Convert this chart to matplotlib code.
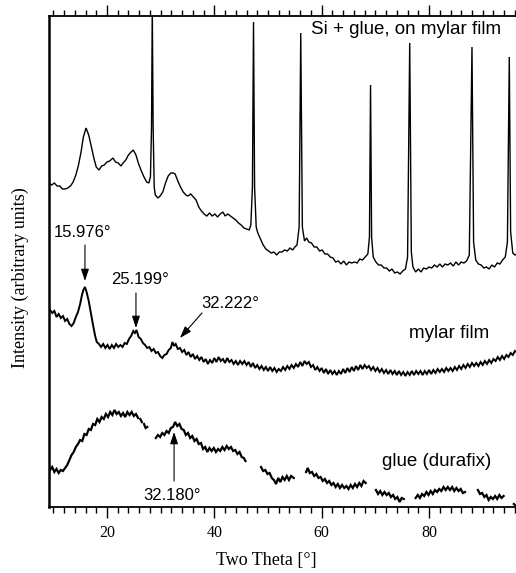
import numpy as np
import matplotlib
matplotlib.use("Agg")
import matplotlib.pyplot as plt

# ---------------- data (two-theta in degrees, intensity in arbitrary units) -------------
si_glue_mylar = [
    (9.2, 324), (9.7, 322), (10.2, 324), (10.7, 321), (11.2, 321), (11.7, 318), (12.2, 318),
    (12.7, 319), (13.2, 321), (13.7, 325), (14.2, 332), (14.7, 342), (15.2, 356), (15.6, 370),
    (16.1, 379), (16.6, 372), (17.1, 360), (17.6, 348), (18.0, 340), (18.5, 337), (19.0, 341),
    (19.5, 342), (20.0, 345), (20.5, 346), (21.1, 349), (21.6, 345), (22.1, 344), (22.6, 341),
    (23.0, 344), (23.5, 347), (24.0, 352), (24.5, 355), (24.9, 357), (25.4, 352), (25.9, 343),
    (26.4, 336), (26.9, 330), (27.4, 325), (27.8, 324), (28.1, 330), (28.3, 380), (28.44, 500),
    (28.6, 380), (28.8, 320), (29.0, 312), (29.5, 309), (29.9, 311), (30.4, 315), (30.9, 324),
    (31.4, 331), (31.9, 334), (32.4, 334), (32.7, 333), (33.2, 326), (33.7, 320), (34.2, 315),
    (34.7, 312), (35.1, 311), (35.6, 313), (36.1, 310), (36.6, 307), (37.1, 300), (37.6, 296),
    (38.1, 293), (38.6, 291), (39.1, 294), (39.6, 291), (40.1, 293), (40.6, 290), (41.1, 293),
    (41.6, 295), (42.0, 291), (42.5, 293), (43.0, 291), (43.5, 289), (44.0, 287), (44.5, 284),
    (45.0, 282), (45.5, 279), (46.0, 278), (46.5, 277), (46.8, 282), (47.1, 320), (47.3, 485),
    (47.5, 320), (47.8, 280), (48.1, 274), (48.6, 268), (49.1, 262), (49.6, 258), (50.1, 256),
    (50.6, 254), (51.1, 255), (51.6, 252), (52.1, 255), (52.6, 255), (53.1, 257), (53.6, 256),
    (54.1, 259), (54.6, 257), (55.0, 260), (55.4, 262), (55.8, 280), (56.1, 474), (56.4, 280),
    (56.8, 266), (57.2, 269), (57.6, 265), (58.1, 264), (58.6, 260), (59.1, 260), (59.6, 256),
    (60.1, 257), (60.6, 253), (61.1, 253), (61.6, 250), (62.1, 249), (62.6, 245), (63.1, 246),
    (63.6, 243), (64.1, 246), (64.6, 242), (65.1, 245), (65.6, 244), (66.1, 245), (66.6, 244),
    (67.1, 248), (67.6, 247), (68.1, 250), (68.6, 253), (68.9, 270), (69.1, 422), (69.3, 270),
    (69.6, 250), (70.1, 245), (70.6, 242), (71.1, 242), (71.6, 239), (72.1, 239), (72.6, 236),
    (73.1, 238), (73.6, 234), (74.1, 235), (74.6, 233), (75.1, 236), (75.6, 238), (76.0, 250),
    (76.4, 464), (76.7, 255), (77.0, 240), (77.5, 235), (78.0, 238), (78.5, 235), (79.0, 239),
    (79.5, 238), (80.0, 240), (80.5, 239), (81.0, 242), (81.5, 240), (82.0, 243), (82.5, 240),
    (83.0, 243), (83.5, 242), (84.0, 244), (84.5, 241), (85.0, 245), (85.5, 242), (86.0, 245),
    (86.5, 244), (87.0, 246), (87.5, 252), (88.0, 460), (88.3, 265), (88.7, 247), (89.2, 243),
    (89.7, 242), (90.2, 239), (90.7, 240), (91.2, 238), (91.7, 242), (92.2, 240), (92.7, 244),
    (93.2, 243), (93.7, 247), (94.2, 250), (94.6, 265), (94.95, 450), (95.2, 275), (95.6, 254),
    (96.0, 252), (96.3, 253),
]

mylar_film = [
    (9.4, 197), (9.8, 194), (10.2, 196), (10.6, 190), (11.0, 193), (11.4, 189), (11.8, 191),
    (12.2, 186), (12.6, 188), (13.0, 183), (13.4, 181), (13.8, 184), (14.2, 190), (14.6, 195),
    (15.0, 203), (15.3, 211), (15.6, 217), (15.9, 220), (16.2, 215), (16.6, 206), (17.0, 194),
    (17.4, 182), (17.8, 171), (18.1, 165), (18.5, 163), (18.9, 160), (19.3, 163), (19.7, 159),
    (20.1, 162), (20.5, 158), (20.9, 162), (21.3, 159), (21.7, 163), (22.1, 160), (22.5, 162),
    (22.9, 160), (23.3, 164), (23.7, 163), (24.1, 168), (24.5, 171), (24.9, 176), (25.2, 174),
    (25.5, 177), (25.9, 170), (26.3, 168), (26.7, 164), (27.1, 162), (27.5, 159), (27.9, 160),
    (28.3, 156), (28.7, 158), (29.1, 154), (29.5, 155), (29.9, 151), (30.3, 149), (30.7, 152),
    (31.1, 153), (31.5, 157), (31.9, 159), (32.2, 165), (32.5, 161), (32.8, 163), (33.2, 158),
    (33.6, 159), (34.0, 155), (34.4, 157), (34.8, 152), (35.2, 155), (35.6, 150), (36.0, 153),
    (36.4, 148), (36.8, 151), (37.2, 147), (37.6, 150), (38.0, 145), (38.4, 148), (38.8, 143),
    (39.2, 147), (39.6, 144), (40.0, 149), (40.4, 145), (40.8, 150), (41.2, 146), (41.6, 148),
    (42.0, 144), (42.4, 149), (42.8, 145), (43.2, 147), (43.6, 143), (44.0, 146), (44.4, 142),
    (44.8, 146), (45.2, 143), (45.6, 146), (46.0, 142), (46.4, 145), (46.8, 140), (47.2, 144),
    (47.6, 139), (48.0, 142), (48.4, 138), (48.8, 141), (49.2, 137), (49.6, 140), (50.0, 136),
    (50.4, 140), (50.8, 136), (51.2, 139), (51.6, 135), (52.0, 138), (52.4, 136), (52.8, 140),
    (53.2, 137), (53.6, 141), (54.0, 138), (54.4, 142), (54.8, 139), (55.2, 143), (55.6, 140),
    (56.0, 145), (56.4, 141), (56.8, 146), (57.2, 143), (57.6, 145), (58.0, 140), (58.4, 142),
    (58.8, 137), (59.2, 140), (59.6, 136), (60.0, 139), (60.4, 134), (60.8, 138), (61.2, 133),
    (61.6, 137), (62.0, 133), (62.4, 136), (62.8, 132), (63.2, 136), (63.6, 133), (64.0, 138),
    (64.4, 134), (64.8, 139), (65.2, 135), (65.6, 140), (66.0, 136), (66.4, 141), (66.8, 137),
    (67.2, 142), (67.6, 138), (68.0, 142), (68.4, 139), (68.8, 141), (69.2, 137), (69.6, 140),
    (70.0, 136), (70.4, 139), (70.8, 135), (71.2, 138), (71.6, 134), (72.0, 137), (72.4, 133),
    (72.8, 137), (73.2, 133), (73.6, 136), (74.0, 132), (74.4, 136), (74.8, 132), (75.2, 135),
    (75.6, 131), (76.0, 135), (76.4, 132), (76.8, 136), (77.2, 132), (77.6, 136), (78.0, 133),
    (78.4, 136), (78.8, 132), (79.2, 136), (79.6, 133), (80.0, 137), (80.4, 133), (80.8, 137),
    (81.2, 134), (81.6, 138), (82.0, 135), (82.4, 138), (82.8, 135), (83.2, 139), (83.6, 136),
    (84.0, 139), (84.4, 136), (84.8, 140), (85.2, 137), (85.6, 141), (86.0, 138), (86.4, 142),
    (86.8, 139), (87.2, 143), (87.6, 140), (88.0, 144), (88.4, 141), (88.8, 144), (89.2, 141),
    (89.6, 145), (90.0, 142), (90.4, 146), (90.8, 143), (91.2, 147), (91.6, 144), (92.0, 148),
    (92.4, 146), (92.8, 150), (93.2, 147), (93.6, 151), (94.0, 148), (94.4, 152), (94.8, 150),
    (95.2, 154), (95.6, 152), (96.0, 156), (96.3, 155),
]

# glue scan is recorded in separate pieces (gaps between them)
glue_durafix = [
    [(9.4, 37), (9.8, 40), (10.2, 35), (10.6, 38), (11.0, 34), (11.4, 37), (11.8, 36), (12.2, 39),
     (12.6, 42), (13.0, 47), (13.4, 52), (13.8, 55), (14.2, 60), (14.6, 63), (15.0, 67), (15.4, 66),
     (15.8, 73), (16.2, 72), (16.6, 78), (17.0, 77), (17.4, 83), (17.8, 82), (18.2, 88), (18.6, 85),
     (19.0, 90), (19.4, 88), (19.8, 93), (20.2, 90), (20.6, 95), (21.0, 92), (21.4, 97), (21.8, 93),
     (22.2, 95), (22.6, 91), (23.0, 94), (23.4, 90), (23.8, 95), (24.2, 92), (24.6, 95), (25.0, 91),
     (25.4, 93), (25.8, 89)],
    [(26.2, 88), (26.5, 85)],
    [(26.9, 83), (27.2, 79), (27.5, 80)],
    [(29.1, 69), (29.5, 72), (29.9, 70), (30.3, 74), (30.7, 72), (31.1, 76), (31.5, 74), (31.9, 79),
     (32.3, 80), (32.7, 85), (33.1, 81), (33.5, 83), (33.9, 78), (34.3, 77), (34.7, 72), (35.1, 74),
     (35.5, 69), (35.9, 71), (36.3, 66), (36.7, 68), (37.1, 63), (37.5, 64), (37.9, 58), (38.3, 60),
     (38.7, 55), (39.1, 59), (39.5, 56), (39.9, 59), (40.3, 55), (40.7, 58), (41.1, 56), (41.5, 60),
     (41.9, 57), (42.3, 61), (42.7, 58), (43.1, 60), (43.5, 56), (43.9, 57), (44.3, 53), (44.7, 55),
     (45.1, 50), (45.5, 49), (45.8, 46)],
    [(48.7, 40), (49.1, 36), (49.5, 37), (49.9, 33), (50.3, 34), (50.7, 29), (51.1, 27), (51.5, 23),
     (51.9, 29), (52.3, 25), (52.7, 30), (53.1, 27), (53.5, 31), (53.9, 27), (54.3, 31), (54.8, 29)],
    [(57.1, 35), (57.4, 39), (57.8, 34), (58.2, 35), (58.6, 31), (59.0, 33), (59.4, 29), (59.8, 30),
     (60.2, 26), (60.6, 28), (61.0, 24), (61.4, 26), (61.8, 22), (62.2, 24), (62.6, 20), (63.0, 23),
     (63.4, 19), (63.8, 22), (64.2, 19), (64.6, 21), (65.0, 18), (65.4, 22), (65.8, 19), (66.2, 23),
     (66.6, 20), (67.0, 24), (67.4, 21), (67.8, 26), (68.2, 24)],
    [(70.1, 17), (70.5, 13), (70.9, 16), (71.3, 12), (71.7, 15), (72.1, 12), (72.5, 14), (72.9, 10),
     (73.3, 12), (73.7, 8), (74.1, 10), (74.5, 5), (74.9, 9), (75.3, 8)],
    [(77.5, 9), (77.9, 12), (78.3, 9), (78.7, 13), (79.1, 11), (79.5, 15), (79.9, 12), (80.3, 16),
     (80.7, 13), (81.1, 17), (81.5, 15), (81.9, 18), (82.3, 16), (82.7, 20), (83.1, 17), (83.5, 20),
     (83.9, 17), (84.3, 20), (84.7, 16), (85.1, 19), (85.5, 16), (85.9, 18), (86.3, 14), (86.7, 15)],
    [(89.1, 17), (89.5, 13), (89.9, 14), (90.3, 10), (90.7, 12), (91.1, 7), (91.5, 10), (91.9, 8),
     (92.3, 11), (92.7, 8), (93.1, 12), (93.5, 9), (93.9, 11)],
    [(95.8, 3), (96.0, 2)],
]

trace_labels = ["Si + glue, on mylar film", "mylar film", "glue (durafix)"]
label_pos = [(58.0, 477), (76.2, 174), (71.2, 45)]

# peak annotations: text, text position, arrow tail, arrow tip
peak_texts = ["15.976°", "25.199°", "32.222°", "32.180°"]
peak_text_pos = [(15.5, 275), (26.1, 227), (42.9, 204), (32.1, 12)]
peak_arrow_tail = [(15.9, 262), (25.4, 214), (37.7, 194), (32.5, 26)]
peak_arrow_tip = [(15.9, 226), (25.4, 179), (33.6, 169), (32.5, 75)]

x_major = [20, 40, 60, 80]
x_min, x_max = 9.2, 96.2
y_min, y_max = 0, 491

# ---------------- figure ----------------
W, H = 516, 573
fig = plt.figure(figsize=(W / 100, H / 100), dpi=100)
ax = fig.add_axes([49 / W, 66 / H, (W - 49) / W, 491 / H])

sans = "Liberation Sans"
serif = "Liberation Serif"

def plot_pairs(pairs, lw):
    xs = [p[0] for p in pairs]
    ys = [p[1] for p in pairs]
    ax.plot(xs, ys, color="black", lw=lw, solid_joinstyle="miter")

plot_pairs(si_glue_mylar, 1.0)
plot_pairs(mylar_film, 1.4)
for seg in glue_durafix:
    plot_pairs(seg, 1.6)

for txt, (lx, ly) in zip(trace_labels, label_pos):
    ax.text(lx, ly, txt, fontsize=13.5, family=sans, ha="left", va="center")

for txt, tp, tail, tip in zip(peak_texts, peak_text_pos, peak_arrow_tail, peak_arrow_tip):
    ax.text(tp[0], tp[1], txt, fontsize=12, family=sans, ha="center", va="center")
    ax.annotate("", xy=tip, xytext=tail,
                arrowprops=dict(arrowstyle="-|>,head_length=0.6,head_width=0.2",
                                color="black", lw=0.8,
                                mutation_scale=12, shrinkA=0, shrinkB=0))

ax.set_xlim(x_min, x_max)
ax.set_ylim(y_min, y_max)
ax.set_xticks(x_major)
ax.set_xticks(np.arange(10, 98, 2), minor=True)
ax.set_yticks([])
ax.tick_params(axis="x", which="both", direction="out", top=True, bottom=True,
               width=1.0, labelsize=11.5)
ax.tick_params(axis="x", which="major", length=8, pad=5)
ax.tick_params(axis="x", which="minor", length=4.5)
for lab in ax.get_xticklabels():
    lab.set_family(serif)

ax.spines["right"].set_visible(False)
ax.spines["left"].set_linewidth(1.8)
ax.spines["top"].set_linewidth(1.3)
ax.spines["bottom"].set_linewidth(1.3)

fig.text(266 / W, 1 - 560 / H, "Two Theta [°]", family=serif, fontsize=13,
         ha="center", va="center")
fig.text(20 / W, 1 - 278 / H, "Intensity (arbitrary units)", family=serif, fontsize=13,
         ha="center", va="center", rotation=90)

fig.savefig("out.png", dpi=100)
